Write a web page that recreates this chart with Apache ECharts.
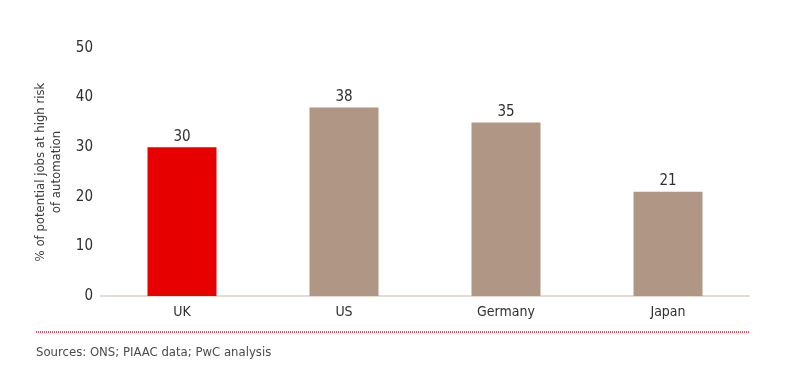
<!DOCTYPE html>
<html>
<head>
<meta charset="utf-8">
<script src="https://cdn.jsdelivr.net/npm/echarts@6/dist/echarts.min.js"></script>
<style>
html,body{margin:0;padding:0;background:#fff;}
#c{width:800px;height:375px;}
</style>
</head>
<body>
<div id="c"></div>
<script>
var categories = ['UK', 'US', 'Germany', 'Japan'];
var values = [30, 38, 35, 21];
var barColors = ['#e60000', '#b09684', '#b09684', '#b09684'];
var yTicks = [0, 10, 20, 30, 40, 50];
var yAxisName = '% of potential jobs at high risk\nof automation';
var sourceText = 'Sources: ONS; PIAAC data; PwC analysis';

var FONT = "'Liberation Sans Narrow', 'DejaVu Sans Condensed', 'Liberation Sans', sans-serif";
var chart = echarts.init(document.getElementById('c'));
chart.setOption({
  backgroundColor: '#fff',
  animation: false,
  grid: {left: 101, right: 51, top: 48, bottom: 79, containLabel: false},
  xAxis: {
    type: 'category',
    data: categories,
    axisLine: {lineStyle: {color: '#e3dcd6', width: 2}},
    axisTick: {show: false},
    axisLabel: {color: '#2f2f2f', fontSize: 14, fontFamily: FONT, margin: 9}
  },
  yAxis: {
    type: 'value',
    min: yTicks[0],
    max: yTicks[yTicks.length - 1],
    interval: 10,
    axisLine: {show: false},
    axisTick: {show: false},
    splitLine: {show: false},
    axisLabel: {color: '#2f2f2f', fontSize: 15, fontFamily: FONT, margin: 8},
    name: yAxisName,
    nameLocation: 'middle',
    nameRotate: 90,
    nameGap: 36,
    nameTextStyle: {color: '#3a3a3a', fontSize: 13, fontFamily: FONT, lineHeight: 16}
  },
  series: [{
    type: 'bar',
    data: values.map(function (v, i) { return {value: v, itemStyle: {color: barColors[i]}}; }),
    barWidth: 69,
    label: {show: true, position: 'top', color: '#2f2f2f', fontSize: 15, fontFamily: FONT, distance: 3}
  }],
  graphic: [
    {type: 'line', shape: {x1: 36, y1: 332, x2: 750, y2: 332},
     style: {stroke: '#e8102a', lineWidth: 1.5, lineDash: [1, 1]}},
    {type: 'text', left: 36, top: 346,
     style: {text: sourceText, fill: '#4a4a4a', font: '13px ' + FONT}}
  ]
});
</script>
</body>
</html>
